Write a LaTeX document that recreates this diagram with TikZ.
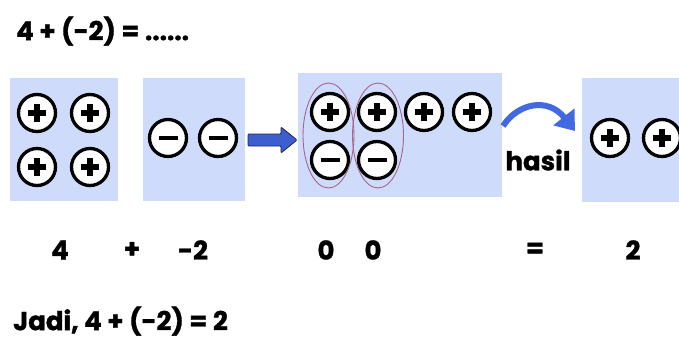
\documentclass[tikz,border=0pt]{standalone}
\usepackage{fontspec}
\setmainfont{Poppins}[BoldFeatures={FakeBold=1.2}]
\usetikzlibrary{arrows.meta,shapes.geometric}
\definecolor{boxblue}{RGB}{206,219,250}
\definecolor{ringpink}{RGB}{168,100,140}
\definecolor{arrblue}{RGB}{66,104,226}
\definecolor{navy}{RGB}{30,40,90}
\tikzset{
  bluebox/.style={rectangle, fill=boxblue, inner sep=0pt},
  sign/.style={circle, draw=black, line width=3.3pt, fill=white, minimum size=37pt, inner sep=0pt},
  pluscirc/.style={sign, path picture={
      \draw[line width=6pt] ([xshift=-9pt]path picture bounding box.center) -- ([xshift=9pt]path picture bounding box.center);
      \draw[line width=6pt] ([yshift=-9pt]path picture bounding box.center) -- ([yshift=9pt]path picture bounding box.center);}},
  minuscirc/.style={sign, path picture={
      \draw[line width=4.5pt] ([xshift=-9.5pt]path picture bounding box.center) -- ([xshift=9.5pt]path picture bounding box.center);}},
  pairring/.style={ellipse, draw=ringpink, line width=0.9pt},
  txt/.style={font=\fontsize{26}{30}\selectfont\bfseries, inner sep=0pt},
}
\begin{document}
\begin{tikzpicture}[x=1pt,y=-1pt]
\useasboundingbox (0,0) rectangle (679,341);
\clip (0,0) rectangle (679,341);
% title
\node[txt, anchor=west] (title) at (16,31) {4 + (-2) = ......};
% boxes
\node[bluebox, minimum width=108pt, minimum height=123pt] (b1) at (64,139.5) {};
\node[bluebox, minimum width=102pt, minimum height=123pt] (b2) at (194,139.5) {};
\node[bluebox, minimum width=204pt, minimum height=124pt] (b3) at (400,135) {};
\node[bluebox, minimum width=97pt, minimum height=124pt] (b4) at (630.5,140) {};
% box 1
\node[pluscirc] (p11) at (37,113) {};
\node[pluscirc] (p12) at (90,113) {};
\node[pluscirc] (p13) at (37,167) {};
\node[pluscirc] (p14) at (90,167) {};
% box 2
\node[minuscirc] (m21) at (168,138) {};
\node[minuscirc] (m22) at (218,138) {};
% box 3
\node[pluscirc] (p31) at (330,112) {};
\node[pluscirc] (p32) at (377,112) {};
\node[pluscirc] (p33) at (424,112) {};
\node[pluscirc] (p34) at (472,112) {};
\node[minuscirc] (m31) at (330,160) {};
\node[minuscirc] (m32) at (377,160) {};
\node[pairring, minimum width=51pt, minimum height=105pt] (r1) at (328.5,135.5) {};
\node[pairring, minimum width=51pt, minimum height=105pt] (r2) at (378,135.5) {};
% box 4
\node[pluscirc] (p41) at (610,138) {};
\node[pluscirc] (p42) at (662,138) {};
% block arrow
\draw[navy, line width=0.8pt, fill=arrblue!85!navy, rounded corners=1pt]
  (248,134) -- (281,134) -- (281,127) -- (297,140) -- (281,153) -- (281,146) -- (248,146) -- cycle;
% curved arrow
\coordinate (c0) at (503,126);
\coordinate (c1) at (575,131);
\draw[arrblue, line width=6pt, -{Triangle[length=18pt,width=26pt]}]
  (c0) .. controls (518,103) and (548,97) .. (c1);
\node[txt, anchor=center] (hasil) at (538,160) {hasil};
% bottom labels
\node[txt] (n4) at (60,250) {4};
\node[txt] (nplus) at (132,250) {+};
\node[txt] (nm2) at (193,250) {-2};
\node[txt] (z1) at (326,250) {0};
\node[txt] (z2) at (373,250) {0};
\node[txt] (neq) at (535,250) {=};
\node[txt] (n2) at (633,250) {2};
% conclusion
\node[txt, anchor=west] (jadi) at (13,321) {Jadi, 4 + (-2) = 2};
\end{tikzpicture}
\end{document}
